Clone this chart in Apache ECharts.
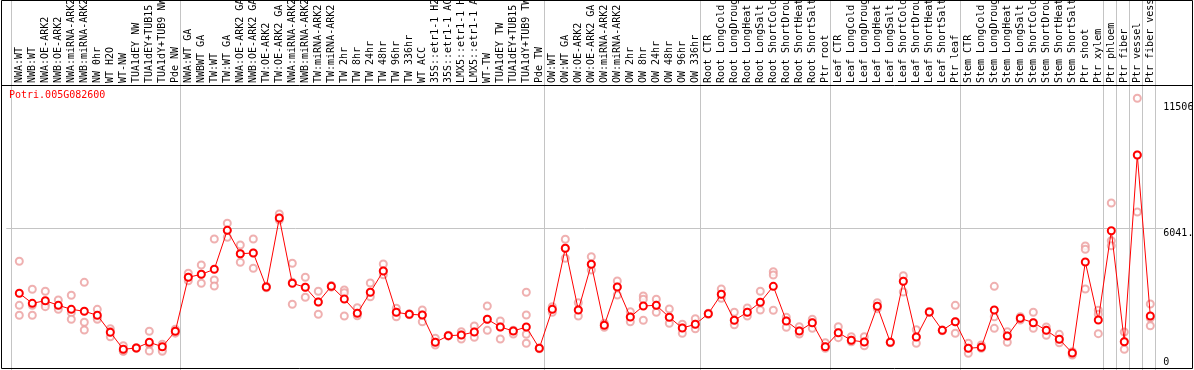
<!DOCTYPE html>
<html>
<head>
<meta charset="utf-8">
<script src="https://cdn.jsdelivr.net/npm/echarts@6/dist/echarts.min.js"></script>
<style>
html, body { margin: 0; padding: 0; background: #fff; }
#chart { width: 1194px; height: 370px; }
</style>
</head>
<body>
<div id="chart"></div>
<script>
const geneId = 'Potri.005G082600';

const categories = [
  'NWA:WT', 'NWB:WT', 'NWA:OE-ARK2', 'NWB:OE-ARK2', 'NWA:miRNA-ARK2', 'NWB:miRNA-ARK2', 'NW 0hr', 'WT H2O', 'WT-NW',
  'TUA1dEY NW', 'TUA1dEY+TUB15 NW', 'TUA1dY+TUB9 NW', 'Pde NW',
  'NWA:WT GA', 'NWBWT GA', 'TW:WT', 'TW:WT GA', 'NWA:OE-ARK2 GA', 'NWB:OE-ARK2 GA', 'TW:OE-ARK2', 'TW:OE-ARK2 GA',
  'NWA:miRNA-ARK2', 'NWB:miRNA-ARK2', 'TW:miRNA-ARK2', 'TW:miRNA-ARK2', 'TW 2hr', 'TW 8hr', 'TW 24hr', 'TW 48hr',
  'TW 96hr', 'TW 336hr', 'WT ACC', '35S::etr1-1 H2O', '35S::etr1-1 ACC', 'LMX5::etr1-1 H2O', 'LMX5::etr1-1 ACC',
  'WT-TW', 'TUA1dEY TW', 'TUA1dEY+TUB15 TW', 'TUA1dY+TUB9 TW', 'Pde TW',
  'OW:WT', 'OW:WT GA', 'OW:OE-ARK2', 'OW:OE-ARK2 GA', 'OW:miRNA-ARK2', 'OW:miRNA-ARK2', 'OW 2hr', 'OW 8hr',
  'OW 24hr', 'OW 48hr', 'OW 96hr', 'OW 336hr',
  'Root CTR', 'Root LongCold', 'Root LongDrought', 'Root LongHeat', 'Root LongSalt', 'Root ShortCold',
  'Root ShortDrought', 'Root ShortHeat', 'Root ShortSalt', 'Ptr root',
  'Leaf CTR', 'Leaf LongCold', 'Leaf LongDrought', 'Leaf LongHeat', 'Leaf LongSalt', 'Leaf ShortCold',
  'Leaf ShortDrought', 'Leaf ShortHeat', 'Leaf ShortSalt', 'Ptr leaf',
  'Stem CTR', 'Stem LongCold', 'Stem LongDrought', 'Stem LongHeat', 'Stem LongSalt', 'Stem ShortCold',
  'Stem ShortDrought', 'Stem ShortHeat', 'Stem ShortSalt', 'Ptr shoot', 'Ptr xylem',
  'Ptr phloem', 'Ptr fiber', 'Ptr vessel', 'Ptr fiber vessel'
];

// index of the last sample in each group (a grey rule follows it); -1 = rule before the first one
const groupEnds = [-1, 12, 40, 52, 62, 72, 83, 84, 85, 86, 87];

// mean expression per sample
const means = [
  3213, 2778, 2891, 2691, 2517, 2431, 2257, 1517, 778, 835, 1083, 891, 1561,
  3909, 4039, 4257, 5952, 4935, 4965, 3487, 6487, 3648, 3474, 2835, 3517, 2965, 2344, 3257, 4183,
  2387, 2300, 2270, 1083, 1370, 1400, 1530, 2083, 1748, 1574, 1748, 822,
  2517, 5170, 2487, 4474, 1822, 3487, 2183, 2661, 2691, 2170, 1704, 1865,
  2326, 3170, 2039, 2387, 2822, 3517, 2009, 1574, 1935, 891,
  1500, 1170, 1096, 2648, 1083, 3735, 1313, 2400, 1604, 1978,
  822, 865, 2487, 1357, 2126, 1935, 1604, 1213, 617, 4574, 2052,
  5935, 1109, 9226, 2226
];

// individual replicates per sample
const replicates = [
  [4605, 2691, 2257], [3387, 2690, 2257], [3300, 2742, 2631], [2922, 2634, 2517], [3126, 2370, 2083],
  [3691, 1952, 1617], [2517, 2171, 2083], [1674, 1551, 1326], [935, 695, 704], [850, 835, 820],
  [1561, 984, 704], [996, 760, 690], [1650, 1561, 1480],
  [4083, 3909, 3761], [4444, 4039, 3648], [5574, 3791, 3531], [6257, 5952, 5648], [5313, 4935, 4561],
  [5574, 4965, 4300], [3520, 3487, 3450], [6661, 6487, 6400], [4518, 3690, 2735], [3909, 3474, 3039],
  [3300, 2835, 2300], [3550, 3517, 3480], [3357, 3239, 2226], [2587, 2344, 2239], [3661, 3257, 3065],
  [4487, 4183, 4022], [2561, 2387, 2196], [2320, 2300, 2280], [2487, 2270, 1978], [1257, 1083, 965],
  [1390, 1370, 1350], [1544, 1400, 1226], [1791, 1530, 1300], [2661, 2083, 1604], [2009, 1748, 1226],
  [1610, 1574, 1444], [3257, 2270, 1435, 1039], [840, 822, 800],
  [2631, 2517, 2387], [5561, 5170, 4735], [2804, 2487, 2226], [4805, 4474, 4226], [1909, 1822, 1735],
  [3748, 3487, 3139], [2413, 2183, 1978], [3096, 2952, 2039], [2952, 2691, 2387], [2531, 2170, 1909],
  [1865, 1704, 1474], [2109, 1865, 1674],
  [2350, 2326, 2300], [3400, 3170, 2996], [2387, 2039, 1848], [2574, 2387, 2226], [3300, 2822, 2487],
  [4152, 4009, 2474], [2170, 2009, 1735], [1761, 1574, 1444], [2083, 1935, 1691], [1065, 891, 822],
  [1761, 1500, 1283], [1326, 1170, 1109], [1326, 1096, 935], [2804, 2648, 2544], [1100, 1083, 1060],
  [3978, 3735, 3270], [1630, 1313, 1039], [2420, 2400, 2380], [1620, 1604, 1580], [2691, 1978, 1474],
  [1039, 822, 604], [965, 865, 822], [3517, 2196, 1691], [1544, 1357, 1083], [2196, 2126, 2052],
  [2387, 1935, 1691], [1748, 1604, 1387], [1430, 1213, 1065], [674, 617, 530], [5270, 5126, 3400],
  [2474, 2300, 1457],
  [7139, 5500, 5283], [1530, 1109, 778], [11692, 9226, 6748], [2748, 2139, 1804]
];

const yTicks = [0, 6041.5, 11506];
const refLine = 6041.5;

const FONT = 'DejaVu Sans Mono';
const gridPos = { left: 6.3, right: 30.7 };
const yMax = 12270;

const chart = echarts.init(document.getElementById('chart'), null, { renderer: 'canvas' });

const repPoints = [];
replicates.forEach((vals, i) => vals.forEach(v => repPoints.push([i, v])));

const labelStyle = { fontFamily: FONT, fontSize: 10, color: '#000' };

chart.setOption({
  animation: false,
  title: {
    text: geneId, left: 9, top: 90, padding: 0,
    textStyle: { fontFamily: FONT, fontSize: 10, fontWeight: 'normal', color: '#ff0000' }
  },
  grid: [
    { ...gridPos, top: 85, bottom: 2.8, outerBoundsMode: 'none' },
    { ...gridPos, top: 0, bottom: 0, outerBoundsMode: 'none' }
  ],
  xAxis: [
    {
      type: 'value', gridIndex: 0, position: 'top', min: -1, max: categories.length, interval: 1,
      axisLine: { show: false }, axisTick: { show: false }, splitLine: { show: false },
      axisLabel: {
        ...labelStyle, rotate: 90, margin: 2, showMinLabel: true, showMaxLabel: true,
        formatter: v => categories[v] || ''
      }
    },
    { type: 'value', gridIndex: 1, min: -1, max: categories.length, show: false }
  ],
  yAxis: [
    {
      type: 'value', gridIndex: 0, position: 'right', min: 0, max: yMax,
      axisLine: { show: false }, axisTick: { show: false }, splitLine: { show: false },
      axisLabel: { ...labelStyle, margin: 0, verticalAlign: 'top', customValues: yTicks.slice(1), formatter: v => String(v) }
    },
    {
      type: 'value', gridIndex: 0, position: 'right', min: 0, max: yMax,
      axisLine: { show: false }, axisTick: { show: false }, splitLine: { show: false },
      axisLabel: { ...labelStyle, margin: 0, verticalAlign: 'bottom', customValues: yTicks.slice(0, 1), formatter: v => String(v) }
    },
    { type: 'value', gridIndex: 1, min: 0, max: 1, show: false }
  ],
  graphic: [
    { type: 'rect', silent: true, z: 100, shape: { x: 1.5, y: 0.5, width: 1191, height: 368 },
      style: { fill: 'transparent', stroke: '#000', lineWidth: 1 } },
    { type: 'line', silent: true, z: 100, shape: { x1: 1.5, y1: 85.5, x2: 1192.5, y2: 85.5 },
      style: { stroke: '#000', lineWidth: 1 } }
  ],
  series: [
    {
      // group separators, full height
      type: 'line', xAxisIndex: 1, yAxisIndex: 2, data: [], silent: true,
      markLine: {
        silent: true, symbol: 'none', label: { show: false },
        lineStyle: { color: '#c4c4c4', width: 1, type: 'solid' },
        data: groupEnds.map(k => ({ xAxis: k + 0.38 }))
      }
    },
    {
      type: 'scatter', xAxisIndex: 0, yAxisIndex: 0, data: repPoints,
      symbol: 'emptyCircle', symbolSize: 7,
      itemStyle: { color: '#eb9c9c', borderWidth: 1.2 },
      markLine: {
        silent: true, symbol: 'none', label: { show: false },
        lineStyle: { color: '#c4c4c4', width: 1, type: 'solid' },
        data: [{ yAxis: refLine }]
      }
    },
    {
      type: 'line', xAxisIndex: 0, yAxisIndex: 0, data: means.map((v, i) => [i, v]),
      symbol: 'emptyCircle', symbolSize: 7, z: 5,
      lineStyle: { color: '#ff0000', width: 1 },
      itemStyle: { color: '#ff0000', borderWidth: 1.6 }
    }
  ]
});
</script>
</body>
</html>
